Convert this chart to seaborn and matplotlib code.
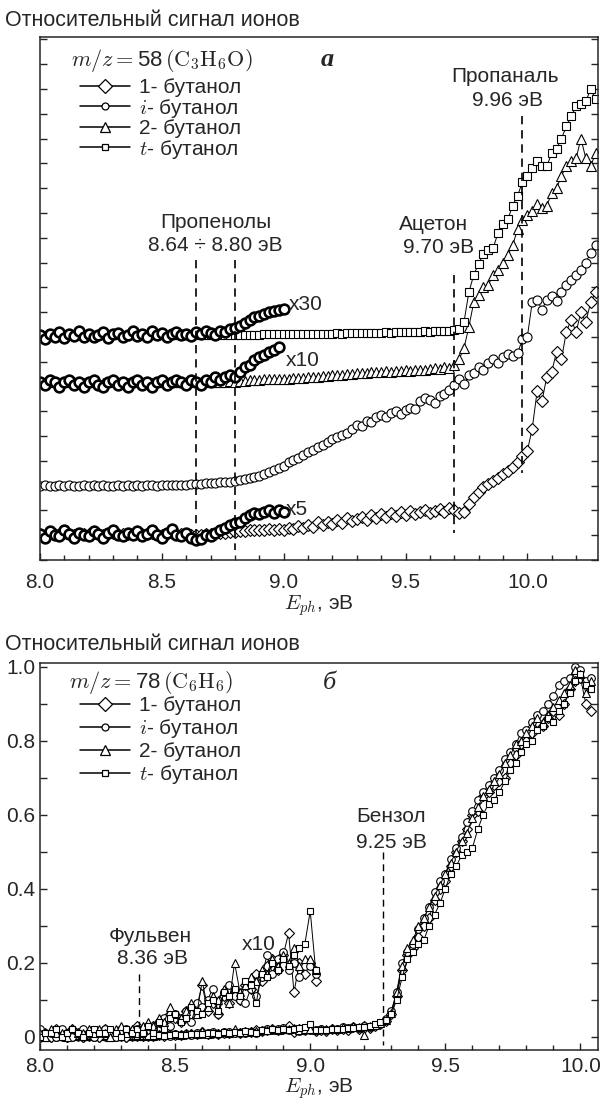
import numpy as np
import seaborn as sns
import matplotlib.pyplot as plt
from matplotlib.lines import Line2D
from matplotlib.ticker import MultipleLocator, FuncFormatter

sns.set_style('ticks')
plt.rcParams['font.family'] = ['Liberation Sans', 'DejaVu Sans']
plt.rcParams['mathtext.fontset'] = 'cm'
plt.rcParams['axes.linewidth'] = 1.1

# ---- panel a: m/z = 58, photon energy 8.00 ... 10.28 eV, step 0.02 (arb. units, offset curves)
E_a = np.round(np.arange(8.0, 10.281, 0.02), 2)

a_1but = [
    1.05, 1.02, 1.07, 1.04, 1.03, 1.08, 1.05, 1.02, 1.06, 1.04,
    1.03, 1.07, 1.05, 1.02, 1.06, 1.08, 1.04, 1.03, 1.06, 1.04,
    1.07, 1.03, 1.05, 1.08, 1.04, 1.02, 1.06, 1.09, 1.04, 1.03,
    1.06, 1.02, 1.00, 1.01, 1.04, 1.03, 1.06, 1.08, 1.10, 1.12,
    1.14, 1.15, 1.18, 1.20, 1.22, 1.21, 1.23, 1.24, 1.22, 1.24,
    1.23, 1.30, 1.25, 1.38, 1.30, 1.42, 1.35, 1.52, 1.40, 1.55,
    1.45, 1.62, 1.50, 1.70, 1.58, 1.66, 1.75, 1.62, 1.80, 1.70,
    1.85, 1.72, 1.90, 1.78, 1.95, 1.82, 1.98, 1.85, 1.92, 2.02,
    1.88, 1.98, 2.05, 1.92, 2.10, 2.00, 1.90, 1.95, 2.25, 2.55,
    2.75, 2.95, 3.05, 3.20, 3.30, 3.45, 3.60, 3.75, 3.95, 4.20,
    4.40, 5.30, 6.80, 6.40, 7.40, 7.60, 8.40, 8.10, 9.20, 9.70,
    9.20, 10.00, 9.60, 10.40, 10.80]
a_ibut = [
    3.00, 3.01, 3.00, 3.00, 3.01, 3.00, 3.01, 3.00, 3.00, 3.01,
    3.00, 3.01, 3.00, 3.01, 3.00, 3.00, 3.01, 3.00, 3.01, 3.00,
    3.01, 3.00, 3.01, 3.01, 3.00, 3.02, 3.01, 3.02, 3.03, 3.04,
    3.04, 3.05, 3.06, 3.08, 3.09, 3.11, 3.12, 3.14, 3.15, 3.16,
    3.18, 3.22, 3.26, 3.30, 3.34, 3.40, 3.46, 3.55, 3.62, 3.70,
    3.80, 3.95, 4.05, 4.12, 4.22, 4.35, 4.42, 4.55, 4.62, 4.75,
    4.90, 4.95, 5.05, 5.12, 5.30, 5.45, 5.40, 5.60, 5.55, 5.75,
    5.85, 5.75, 5.95, 6.00, 5.90, 6.05, 6.15, 6.10, 6.40, 6.55,
    6.45, 6.35, 6.60, 6.70, 6.85, 7.05, 7.30, 7.10, 7.45, 7.55,
    7.80, 7.65, 7.95, 8.10, 7.95, 8.20, 8.30, 8.25, 8.35, 8.90,
    9.00, 10.40, 10.50, 10.10, 10.50, 10.65, 10.45, 10.80, 11.10, 11.30,
    11.50, 11.70, 12.00, 12.40, 12.70]
a_2but = [
    7.18, 7.17, 7.19, 7.18, 7.16, 7.18, 7.19, 7.17, 7.18, 7.16,
    7.18, 7.19, 7.17, 7.16, 7.18, 7.19, 7.17, 7.18, 7.16, 7.18,
    7.19, 7.17, 7.18, 7.16, 7.18, 7.19, 7.17, 7.18, 7.19, 7.18,
    7.17, 7.19, 7.18, 7.17, 7.19, 7.18, 7.20, 7.19, 7.20, 7.21,
    7.20, 7.22, 7.24, 7.25, 7.27, 7.28, 7.29, 7.30, 7.31, 7.32,
    7.32, 7.30, 7.33, 7.35, 7.34, 7.37, 7.40, 7.38, 7.42, 7.44,
    7.45, 7.48, 7.46, 7.50, 7.52, 7.55, 7.53, 7.56, 7.58, 7.57,
    7.60, 7.62, 7.59, 7.63, 7.64, 7.65, 7.63, 7.67, 7.68, 7.66,
    7.72, 7.75, 7.70, 7.78, 7.76, 7.85, 8.10, 8.55, 9.40, 10.40,
    10.70, 11.00, 11.10, 11.50, 11.70, 12.00, 12.30, 12.70, 13.35, 13.70,
    13.90, 14.10, 14.35, 14.20, 14.30, 14.80, 15.00, 15.50, 15.90, 16.10,
    16.20, 17.00, 16.20, 15.90, 16.40]
a_tbut = [
    9.070, 9.065, 9.072, 9.068, 9.074, 9.066, 9.071, 9.069, 9.075, 9.067,
    9.072, 9.068, 9.070, 9.074, 9.066, 9.071, 9.073, 9.067, 9.070, 9.075,
    9.069, 9.072, 9.068, 9.076, 9.070, 9.073, 9.067, 9.071, 9.074, 9.070,
    9.072, 9.069, 9.074, 9.071, 9.076, 9.073, 9.070, 9.075, 9.074, 9.078,
    9.080, 9.082, 9.087, 9.090, 9.094, 9.096, 9.099, 9.101, 9.103, 9.104,
    9.105, 9.10, 9.11, 9.10, 9.12, 9.11, 9.12, 9.12, 9.13, 9.12,
    9.13, 9.14, 9.13, 9.15, 9.14, 9.15, 9.16, 9.15, 9.17, 9.16,
    9.17, 9.18, 9.17, 9.19, 9.18, 9.20, 9.19, 9.21, 9.20, 9.22,
    9.21, 9.23, 9.22, 9.24, 9.25, 9.27, 9.30, 9.60, 10.80, 11.50,
    11.95, 12.35, 12.50, 12.60, 13.20, 13.55, 13.75, 14.30, 14.70, 15.25,
    15.50, 15.80, 16.10, 15.90, 15.90, 16.40, 16.60, 17.00, 17.50, 17.90,
    18.30, 18.40, 18.50, 19.00, 18.60]

# magnified low-energy parts: factor, baseline, last energy
mag_1but = (5, 1.05, 9.00)
mag_2but = (10, 7.18, 8.98)
mag_tbut = (30, 9.07, 9.00)

# ---- panel b: m/z = 78, 8.00 ... 10.04 eV, step 0.02 (relative signal)
E_b = np.round(np.arange(8.0, 10.041, 0.02), 2)

b_1but = [
    0.000, 0.001, 0.000, 0.002, 0.001, 0.000, 0.002, 0.001, 0.000, 0.001,
    0.001, 0.000, 0.002, 0.001, 0.001, 0.002, 0.000, 0.001, 0.003, 0.001,
    0.002, 0.003, 0.004, 0.003, 0.006, 0.005, 0.004, 0.007, 0.006, 0.008,
    0.014, 0.007, 0.009, 0.006, 0.011, 0.009, 0.012, 0.010, 0.014, 0.013,
    0.017, 0.015, 0.019, 0.021, 0.018, 0.022, 0.028, 0.012, 0.020, 0.017,
    0.020, 0.015, 0.018, 0.016, 0.020, 0.018, 0.022, 0.019, 0.025, 0.021,
    0.028, 0.024, 0.030, 0.035, 0.042, 0.060, 0.110, 0.180, 0.220, 0.240,
    0.270, 0.300, 0.320, 0.370, 0.400, 0.420, 0.460, 0.500, 0.530, 0.560,
    0.600, 0.610, 0.650, 0.660, 0.680, 0.690, 0.700, 0.740, 0.760, 0.790,
    0.800, 0.820, 0.850, 0.840, 0.860, 0.880, 0.870, 0.900, 0.940, 0.960,
    0.970, 0.900, 0.880]
b_ibut = [
    0.002, 0.001, 0.001, 0.000, 0.002, 0.001, 0.000, 0.001, 0.002, 0.001,
    0.000, 0.001, 0.002, 0.001, 0.000, 0.001, 0.002, 0.001, 0.002, 0.001,
    0.003, 0.002, 0.004, 0.005, 0.003, 0.006, 0.005, 0.007, 0.004, 0.009,
    0.008, 0.010, 0.013, 0.006, 0.012, 0.014, 0.011, 0.010, 0.009, 0.013,
    0.011, 0.016, 0.022, 0.017, 0.021, 0.023, 0.018, 0.020, 0.016, 0.019,
    0.019, 0.017, 0.020, 0.018, 0.022, 0.021, 0.025, 0.023, 0.027, 0.024,
    0.029, 0.026, 0.031, 0.034, 0.048, 0.070, 0.120, 0.200, 0.230, 0.250,
    0.290, 0.320, 0.350, 0.390, 0.420, 0.440, 0.480, 0.510, 0.540, 0.580,
    0.610, 0.640, 0.660, 0.680, 0.700, 0.720, 0.750, 0.770, 0.790, 0.820,
    0.830, 0.850, 0.870, 0.880, 0.900, 0.920, 0.950, 0.960, 0.970, 1.000,
    0.990, 0.960, 0.970]
b_2but = [
    0.001, 0.000, 0.002, 0.001, 0.001, 0.000, 0.002, 0.001, 0.001, 0.002,
    0.001, 0.002, 0.001, 0.000, 0.002, 0.003, 0.001, 0.002, 0.001, 0.003,
    0.004, 0.003, 0.005, 0.004, 0.008, 0.006, 0.005, 0.007, 0.009, 0.006,
    0.015, 0.008, 0.011, 0.010, 0.013, 0.009, 0.020, 0.012, 0.014, 0.016,
    0.015, 0.018, 0.017, 0.021, 0.019, 0.022, 0.020, 0.024, 0.019, 0.021,
    0.021, 0.018, 0.022, 0.020, 0.024, 0.022, 0.025, 0.023, 0.028, 0.026,
    0.005, 0.028, 0.032, 0.036, 0.045, 0.065, 0.120, 0.190, 0.240, 0.260,
    0.300, 0.320, 0.350, 0.380, 0.410, 0.440, 0.470, 0.500, 0.530, 0.550,
    0.590, 0.620, 0.650, 0.670, 0.690, 0.710, 0.740, 0.760, 0.790, 0.800,
    0.820, 0.840, 0.860, 0.850, 0.870, 0.890, 0.910, 0.930, 0.950, 0.990,
    0.980, 0.930, 0.960]
b_tbut = [
    0.000, 0.001, 0.001, 0.002, 0.000, 0.001, 0.002, 0.001, 0.000, 0.001,
    0.002, 0.001, 0.001, 0.002, 0.001, 0.000, 0.002, 0.001, 0.002, 0.001,
    0.003, 0.001, 0.004, 0.002, 0.005, 0.006, 0.004, 0.005, 0.008, 0.007,
    0.006, 0.009, 0.010, 0.007, 0.012, 0.011, 0.013, 0.011, 0.015, 0.014,
    0.009, 0.017, 0.016, 0.020, 0.018, 0.021, 0.019, 0.022, 0.024, 0.025,
    0.034, 0.018, 0.019, 0.017, 0.021, 0.020, 0.022, 0.024, 0.023, 0.026,
    0.027, 0.030, 0.033, 0.040, 0.045, 0.060, 0.100, 0.160, 0.210, 0.230,
    0.250, 0.260, 0.300, 0.330, 0.360, 0.400, 0.440, 0.460, 0.490, 0.500,
    0.510, 0.560, 0.600, 0.630, 0.640, 0.660, 0.690, 0.720, 0.740, 0.770,
    0.790, 0.800, 0.830, 0.840, 0.860, 0.850, 0.880, 0.900, 0.930, 0.960,
    0.980, 0.950, 0.940]
mag_b = 10
mag_b_end = 9.02

names = ['1- бутанол', r'$i$- бутанол', '2- бутанол', r'$t$- бутанол']
markers = ['D', 'o', '^', 's']
msize_a = [6.0, 6.5, 7.0, 5.5]
msize_b = [5.0, 5.5, 6.0, 4.8]

FS = 15


def series(ax, x, y, marker, ms, lw=0.7):
    sns.lineplot(x=x, y=y, ax=ax, color='black', lw=lw, marker=marker, markersize=ms,
                 markerfacecolor='white', markeredgecolor='black', markeredgewidth=0.8,
                 estimator=None, sort=False, legend=False)


def style_axes(ax, pad, labelpad):
    ax.tick_params(axis='both', which='both', direction='in', labelsize=FS,
                   right=True, top=False, width=1.0)
    ax.tick_params(which='major', length=5)
    ax.tick_params(which='minor', length=3.5)
    ax.tick_params(axis='y', which='both', length=5)
    ax.tick_params(axis='x', which='both', pad=pad)
    ax.xaxis.set_major_locator(MultipleLocator(0.5))
    ax.xaxis.set_minor_locator(MultipleLocator(0.1))
    ax.xaxis.set_major_formatter(FuncFormatter(lambda v, p: f'{v:.1f}'))
    ax.set_xlabel(r'$E_{ph}$, эВ', fontsize=FS, labelpad=labelpad)
    ax.set_ylabel('')


def legend(ax, anchor, spacing):
    handles = [Line2D([], [], color='black', lw=1.1, marker=m, markersize=s,
                      markerfacecolor='white', markeredgecolor='black', markeredgewidth=0.9)
               for m, s in zip(markers, [7, 5, 7, 5])]
    ax.legend(handles, names, loc='upper left', bbox_to_anchor=anchor,
              frameon=False, fontsize=FS, handlelength=2.4, handletextpad=0.45,
              labelspacing=spacing, borderpad=0, borderaxespad=0)


fig = plt.figure(figsize=(6.04, 11.04), dpi=100)
ax_a = fig.add_axes([40 / 604, 1 - 560 / 1104, 558 / 604, 523 / 1104])
ax_b = fig.add_axes([40 / 604, 1 - 1050 / 1104, 558 / 604, 387 / 1104])

# ---------------- panel a
data_a = [a_1but, a_ibut, a_2but, a_tbut]
for y, m, s in zip(data_a, markers, msize_a):
    series(ax_a, E_a, y, m, s)

for y, (k, base, end) in zip([a_1but, a_2but, a_tbut], [mag_1but, mag_2but, mag_tbut]):
    y = np.asarray(y)
    sel = E_a <= end + 1e-9
    sns.lineplot(x=E_a[sel], y=base + k * (y[sel] - base), ax=ax_a, color='black',
                 lw=0, marker='o', markersize=7, markerfacecolor='white',
                 markeredgecolor='black', markeredgewidth=1.9,
                 estimator=None, sort=False, legend=False)

dash_a = dict(color='black', lw=1.2, ls=(0, (5, 3.5)))
ax_a.plot([8.64, 8.64], [12.1, 0.7], **dash_a)
ax_a.plot([8.80, 8.80], [12.1, 0.4], **dash_a)
ax_a.plot([9.70, 9.70], [11.5, 1.1], **dash_a)
ax_a.plot([9.98, 9.98], [17.9, 3.5], **dash_a)

ax_a.text(8.72, 13.6, 'Пропенолы', ha='center', va='center', fontsize=FS)
ax_a.text(8.72, 12.7, '8.64 ÷ 8.80 эВ', ha='center', va='center', fontsize=FS)
ax_a.text(9.616, 13.55, 'Ацетон', ha='center', va='center', fontsize=FS)
ax_a.text(9.637, 12.6, '9.70 эВ', ha='center', va='center', fontsize=FS)
ax_a.text(9.91, 19.5, 'Пропаналь', ha='center', va='center', fontsize=FS)
ax_a.text(9.917, 18.55, '9.96 эВ', ha='center', va='center', fontsize=FS)
ax_a.text(9.02, 10.3, 'x30', ha='left', va='center', fontsize=FS)
ax_a.text(9.01, 8.06, 'x10', ha='left', va='center', fontsize=FS)
ax_a.text(9.01, 2.05, 'x5', ha='left', va='center', fontsize=FS)
ax_a.text(9.18, 20.2, 'а', ha='center', va='center', fontsize=FS + 4,
          family='Liberation Serif', style='italic', weight='bold')
ax_a.text((162 - 40) / 558, (560 - 60) / 523, r'$m/z=$58$\,(\mathrm{C_3H_6O})$',
          transform=ax_a.transAxes, ha='center', va='center', fontsize=FS + 1)

ax_a.set_xlim(8.0, 10.29)
ax_a.set_ylim(0, 21.1)
style_axes(ax_a, pad=9, labelpad=1)
ax_a.yaxis.set_major_locator(MultipleLocator(1))
ax_a.set_yticklabels([])
legend(ax_a, ((80 - 40) / 558, (560 - 78) / 523), -0.02)

# ---------------- panel b
data_b = [b_1but, b_ibut, b_2but, b_tbut]
for y, m, s in zip(data_b, markers, msize_b):
    series(ax_b, E_b, y, m, s)
for y, m, s in zip(data_b, markers, msize_b):
    y = np.asarray(y)
    sel = E_b <= mag_b_end + 1e-9
    series(ax_b, E_b[sel], mag_b * y[sel], m, s)

dash_b = dict(color='black', lw=1.0, ls=(0, (5, 3.5)))
ax_b.plot([9.27, 9.27], [0.50, -0.022], **dash_b)
ax_b.plot([8.365, 8.365], [0.17, -0.01], **dash_b)

ax_b.text(9.30, 0.594, 'Бензол', ha='center', va='center', fontsize=FS)
ax_b.text(9.30, 0.526, '9.25 эВ', ha='center', va='center', fontsize=FS)
ax_b.text(8.41, 0.27, 'Фульвен', ha='center', va='center', fontsize=FS)
ax_b.text(8.415, 0.21, '8.36 эВ', ha='center', va='center', fontsize=FS)
ax_b.text(8.81, 0.25, 'x10', ha='center', va='center', fontsize=FS)
ax_b.text(9.07, 0.955, 'б', ha='center', va='center', fontsize=FS + 4,
          family='Liberation Serif', style='italic')
ax_b.text((151 - 40) / 558, (1050 - 683) / 387, r'$m/z=$78$\,(\mathrm{C_6H_6})$',
          transform=ax_b.transAxes, ha='center', va='center', fontsize=FS + 1)

ax_b.set_xlim(8.0, 10.065)
ax_b.set_ylim(-0.036, 1.01)
style_axes(ax_b, pad=5, labelpad=0)
ax_b.yaxis.set_major_locator(MultipleLocator(0.2))
ax_b.yaxis.set_minor_locator(MultipleLocator(0.1))
ax_b.yaxis.set_major_formatter(FuncFormatter(lambda v, p: '0' if abs(v) < 1e-9 else f'{v:.1f}'))
legend(ax_b, ((80 - 40) / 558, (1050 - 696) / 387), 0.1)

fig.text(5 / 604, 1 - 20 / 1104, 'Относительный сигнал ионов', ha='left', va='center', fontsize=FS + 0.5)
fig.text(5 / 604, 1 - 645 / 1104, 'Относительный сигнал ионов', ha='left', va='center', fontsize=FS + 0.5)

fig.savefig('out.png', dpi=100)
